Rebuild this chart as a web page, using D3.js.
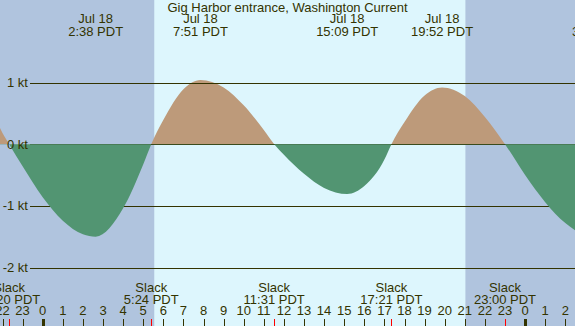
<!DOCTYPE html>
<html>
<head>
<meta charset="utf-8">
<style>
  body { margin: 0; background: #b0c4de; }
  svg { display: block; font-family: "Liberation Sans", Arial, sans-serif; }
</style>
</head>
<body>
<div id="chart"></div>
<script src="https://d3js.org/d3.v7.min.js"></script>
<script>
  // current speed (kt), hours after midnight Jul 18 (PDT)
  const hours  = [-2.5, -2, -1.667, -1, 0, 1, 2, 2.633, 4, 5, 5.4, 6, 7, 7.85, 9, 10, 11, 11.517,
                  12, 13, 14, 15.15, 16, 17, 17.35, 18, 19, 19.867, 21, 22, 23, 24, 25, 26, 27, 27.7];
  const speeds = [0.55, 0.18, 0, -0.36, -0.86, -1.24, -1.46, -1.5, -1.04, -0.33, 0, 0.39, 0.89, 1.04, 0.92, 0.63, 0.23, 0,
                  -0.17, -0.48, -0.71, -0.81, -0.68, -0.25, 0, 0.36, 0.79, 0.92, 0.78, 0.44, 0, -0.5, -0.94, -1.28, -1.48, -1.52];

  // max flood / ebb events (top labels)
  const maxTimes  = [2.633, 7.85, 15.15, 19.867, 27.7];
  const maxDates  = ["Jul 18", "Jul 18", "Jul 18", "Jul 18", "Jul 19"];
  const maxLabels = ["2:38 PDT", "7:51 PDT", "15:09 PDT", "19:52 PDT", "3:42 PDT"];

  // slack events (bottom labels)
  const slackTimes  = [-1.667, 5.4, 11.517, 17.35, 23.0];
  const slackLabels = ["22:20 PDT", "5:24 PDT", "11:31 PDT", "17:21 PDT", "23:00 PDT"];

  const sunrise = 5.55, sunset = 21.03;
  const ktTicks = [1, 0, -1, -2];
  const hourTicks = d3.range(-2, 27);

  const W = 575, H = 326;
  const ink = "#333300";

  const x = d3.scaleLinear().domain([0, 24]).range([42.7, 525.1]);
  const y = d3.scaleLinear().domain([-2, 1]).range([267.5, 82.5]);

  const svg = d3.select("#chart").append("svg")
      .attr("width", W)
      .attr("height", H);

  // night / day background
  svg.append("rect").attr("width", W).attr("height", H).attr("fill", "#b0c4de");
  svg.append("rect")
     .attr("x", x(sunrise)).attr("y", 0)
     .attr("width", x(sunset) - x(sunrise)).attr("height", H)
     .attr("fill", "#ddf6fd");

  const pts = hours.map((h, i) => [h, speeds[i]]);
  const area = d3.area()
      .x(d => x(d[0]))
      .y0(y(0))
      .y1(d => y(d[1]))
      .curve(d3.curveMonotoneX);

  const defs = svg.append("defs");
  defs.append("clipPath").attr("id", "above")
      .append("rect").attr("x", 0).attr("y", 0).attr("width", W).attr("height", y(0));
  defs.append("clipPath").attr("id", "below")
      .append("rect").attr("x", 0).attr("y", Math.round(y(0))).attr("width", W).attr("height", H);

  // flood
  svg.append("path")
     .datum(pts)
     .attr("d", area)
     .attr("fill", "#bd9a7a")
     .attr("clip-path", "url(#above)");

  // grid lines
  svg.selectAll(".grid")
     .data(ktTicks)
     .enter()
     .append("line")
     .attr("x1", 30).attr("x2", W)
     .attr("y1", d => Math.round(y(d)) + 0.5)
     .attr("y2", d => Math.round(y(d)) + 0.5)
     .attr("stroke", ink)
     .attr("stroke-width", 1);

  // ebb
  svg.append("path")
     .datum(pts)
     .attr("d", area)
     .attr("fill", "#529572")
     .attr("clip-path", "url(#below)");

  // kt labels
  svg.selectAll(".kt")
     .data(ktTicks)
     .enter()
     .append("text")
     .attr("x", 28)
     .attr("y", d => y(d) + 4.5)
     .attr("text-anchor", "end")
     .attr("font-size", 13)
     .attr("fill", ink)
     .text(d => d + " kt");

  // title
  svg.append("text")
     .attr("x", 287.5).attr("y", 12)
     .attr("text-anchor", "middle")
     .attr("font-size", 13)
     .attr("fill", ink)
     .text("Gig Harbor entrance, Washington Current");

  // max labels
  const maxG = svg.selectAll(".max")
     .data(maxTimes)
     .enter()
     .append("g")
     .attr("transform", d => `translate(${x(d)},0)`)
     .attr("font-size", 13)
     .attr("fill", ink)
     .attr("text-anchor", "middle");
  maxG.append("text").attr("y", 23).text((d, i) => maxDates[i]);
  maxG.append("text").attr("y", 36).text((d, i) => maxLabels[i]);

  // slack labels
  const slackG = svg.selectAll(".slack")
     .data(slackTimes)
     .enter()
     .append("g")
     .attr("transform", d => `translate(${x(d)},0)`)
     .attr("font-size", 13)
     .attr("fill", ink)
     .attr("text-anchor", "middle");
  slackG.append("text").attr("y", 292).text("Slack");
  slackG.append("text").attr("y", 304).text((d, i) => slackLabels[i]);

  // hour labels + ticks
  svg.selectAll(".hr")
     .data(hourTicks)
     .enter()
     .append("text")
     .attr("x", d => x(d))
     .attr("y", 315)
     .attr("text-anchor", "middle")
     .attr("font-size", 13)
     .attr("fill", ink)
     .text(d => ((d % 24) + 24) % 24);

  svg.selectAll(".tick")
     .data(hourTicks)
     .enter()
     .append("line")
     .attr("x1", d => Math.round(x(d)) + 0.5)
     .attr("x2", d => Math.round(x(d)) + 0.5)
     .attr("y1", 319).attr("y2", H)
     .attr("stroke", ink)
     .attr("stroke-width", d => d % 24 === 0 ? 3 : 1);

  svg.selectAll(".stick")
     .data(slackTimes)
     .enter()
     .append("line")
     .attr("x1", d => Math.round(x(d)) + 0.5)
     .attr("x2", d => Math.round(x(d)) + 0.5)
     .attr("y1", 319).attr("y2", H)
     .attr("stroke", "#ff0000")
     .attr("stroke-width", 1);
</script>
</body>
</html>
